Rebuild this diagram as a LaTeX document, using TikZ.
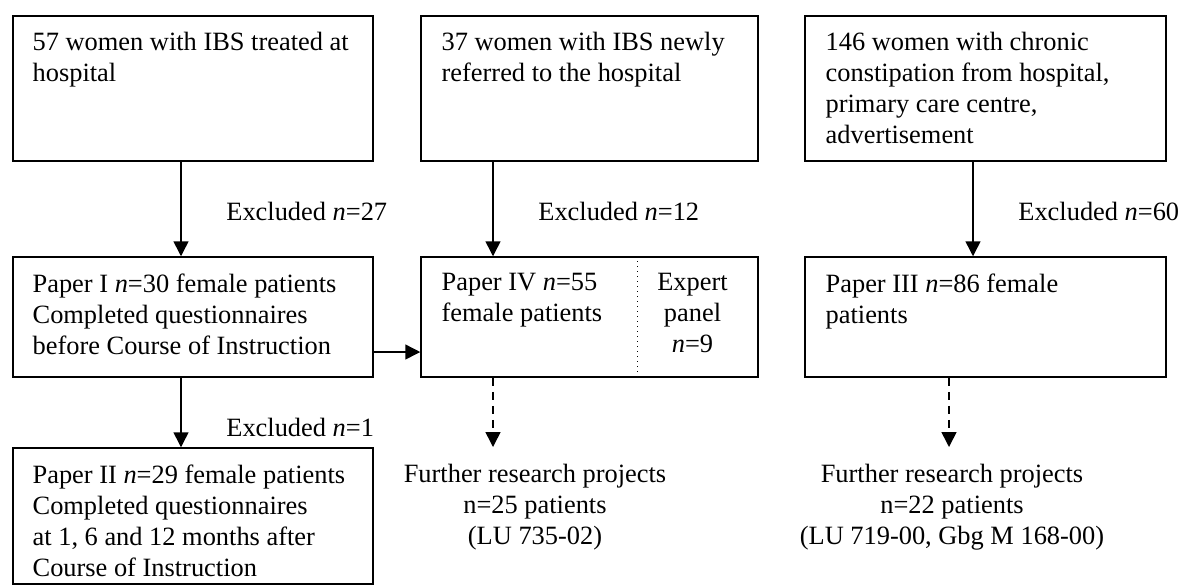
\documentclass[tikz,border=0pt]{standalone}
\usepackage{fontspec}
\setmainfont{Liberation Serif}
\usepackage{tikz}
\usetikzlibrary{arrows.meta}
\usetikzlibrary{positioning, calc}

\tikzset{
  box/.style={draw, line width=.75pt, inner sep=0, minimum height=#1},
  box/.default=60pt,
  txt/.style={inner sep=0, align=left, anchor=north west},
  lbl/.style={inner sep=0, anchor=west},
  arr/.style={line width=.75pt, -{Triangle[length=7.5pt, width=7.5pt]}},
}

\begin{document}
\begin{tikzpicture}[x=.5pt, y=-.5pt, font=\fontsize{13.2pt}{15.5pt}\selectfont]
\useasboundingbox (0,0) rectangle (1189,586);

\coordinate (col1) at (181,0);
\coordinate (col2) at (493,0);
\coordinate (col3) at (973,0);
\coordinate (col3d) at (949,0);
\coordinate (divx) at (637,0);
\coordinate (rowh) at (0,352);

\node[box=72.5pt, minimum width=180pt] (b1) at (193,88.5) {};
\node[box=72.5pt, minimum width=168.5pt] (b2) at (589.5,88.5) {};
\node[box=72.5pt, minimum width=180.5pt] (b3) at (985.5,88.5) {};
\node[box, minimum width=180pt] (p1) at (193,317) {};
\node[box, minimum width=168.5pt] (p4) at (589.5,317) {};
\node[box, minimum width=180.5pt] (p3) at (985.5,317) {};
\node[box=68pt, minimum width=180pt] (p2) at (193,516) {};

\node[txt, below right=8.5pt and 10pt of b1.north west] (tb1) {57 women with IBS treated at\\hospital};
\node[txt, below right=8.5pt and 10.5pt of b2.north west] (tb2) {37 women with IBS newly\\referred to the hospital};
\node[txt, below right=8.5pt and 10.5pt of b3.north west] (tb3) {146 women with chronic\\constipation from hospital,\\primary care centre,\\advertisement};
\node[txt, below right=8.5pt and 10pt of p1.north west] (tp1) {Paper I \textit{n}=30 female patients\\Completed questionnaires\\before Course of Instruction};
\node[txt, below right=8.5pt and 10.5pt of p4.north west] (tp4) {Paper IV \textit{n}=55\\female patients};
\node[txt, align=center, anchor=north] (tex) at ($(p4.north)+(103,17)$) {Expert\\panel\\\textit{n}=9};
\node[txt, below right=8.5pt and 10.5pt of p3.north west] (tp3) {Paper III \textit{n}=86 female\\patients};
\node[txt, below right=8.5pt and 10pt of p2.north west] (tp2) {Paper II \textit{n}=29 female patients\\Completed questionnaires\\at 1, 6 and 12 months after\\Course of Instruction};

\node[lbl] (e27) at (226,211) {Excluded \textit{n}=27};
\node[lbl] (e12) at (538,211) {Excluded \textit{n}=12};
\node[lbl] (e60) at (1018,211) {Excluded \textit{n}=60};
\node[lbl] (e1) at (226,427) {Excluded \textit{n}=1};

\node[inner xsep=0, inner ysep=8.5pt, align=center, anchor=north] (f2) at (535,447) {Further research projects\\n=25 patients\\(LU 735-02)};
\node[inner xsep=0, inner ysep=8.5pt, align=center, anchor=north] (f3) at (952,447) {Further research projects\\n=22 patients\\(LU 719-00, Gbg M 168-00)};

\draw[arr] (b1.south -| col1) -- (p1.north -| col1);
\draw[arr] (b2.south -| col2) -- (p4.north -| col2);
\draw[arr] (b3.south -| col3) -- (p3.north -| col3);
\draw[arr] (p1.south -| col1) -- (p2.north -| col1);
\draw[arr] (p1.east |- rowh) -- (p4.west |- rowh);
\draw[arr, dash pattern=on 4pt off 3pt] (p4.south -| col2) -- (f2.north -| col2);
\draw[arr, dash pattern=on 4pt off 3pt] (p3.south -| col3d) -- (f3.north -| col3d);
\draw[line width=.5pt, dotted] (p4.north -| divx) -- (p4.south -| divx);
\end{tikzpicture}
\end{document}
